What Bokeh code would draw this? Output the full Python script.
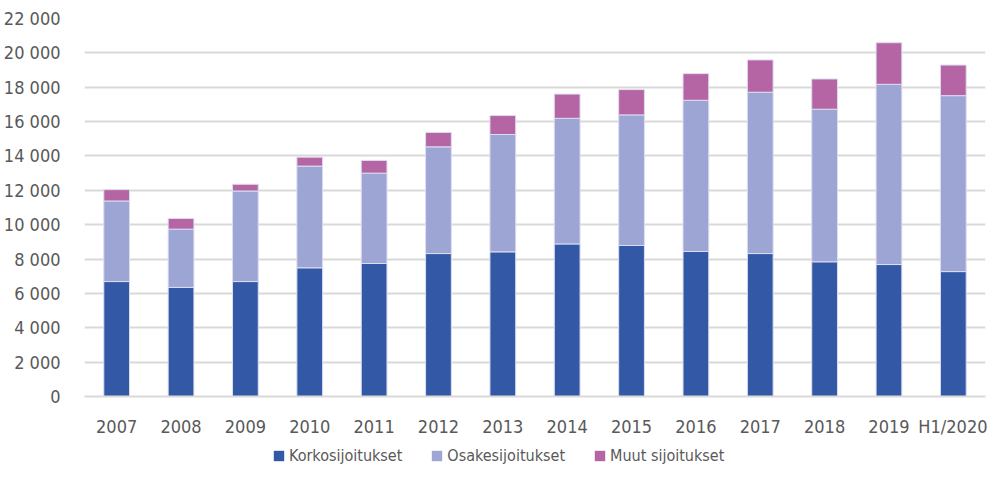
from bokeh.plotting import figure
from bokeh.layouts import column
from bokeh.models import (FactorRange, Range1d, FixedTicker, CustomJSTickFormatter,
                          Legend, LegendItem, ColumnDataSource)
from bokeh.embed import file_html
from bokeh.resources import INLINE

years = ["2007", "2008", "2009", "2010", "2011", "2012", "2013", "2014",
         "2015", "2016", "2017", "2018", "2019", "H1/2020"]
korko = [6690, 6350, 6690, 7490, 7740, 8320, 8420, 8880, 8790, 8440, 8320, 7840, 7680, 7270]
osake = [4690, 3390, 5270, 5920, 5260, 6210, 6830, 7310, 7600, 8800, 9390, 8880, 10490, 10240]
muut = [660, 620, 390, 520, 740, 840, 1100, 1410, 1470, 1550, 1880, 1760, 2420, 1780]
series = ["Korkosijoitukset", "Osakesijoitukset", "Muut sijoitukset"]
colors = ["#3358A5", "#9DA5D4", "#B565A3"]
y_ticks = list(range(0, 22001, 2000))

FONT = "DejaVu Sans Condensed"
TXT = "#595959"
W = 987

src = ColumnDataSource(dict(x=years, korko=korko, osake=osake, muut=muut))

# main chart
p = figure(x_range=FactorRange(factors=years, range_padding=0),
           y_range=Range1d(0, 22000),
           width=W, height=439, output_backend="svg", toolbar_location=None,
           min_border_left=83, min_border_right=2, min_border_top=18,
           min_border_bottom=42)
p.outline_line_color = None

p.vbar_stack(["korko", "osake", "muut"], x="x", width=0.4, source=src,
             color=colors, line_color="#DCDDF0", line_width=1)

p.yaxis.ticker = FixedTicker(ticks=y_ticks)
p.yaxis.formatter = CustomJSTickFormatter(
    code='return tick.toString().replace(/\\B(?=(\\d{3})+(?!\\d))/g, " ");')
p.yaxis.axis_line_color = None
p.yaxis.major_tick_line_color = None
p.yaxis.minor_tick_line_color = None
p.yaxis.major_label_text_font = FONT
p.yaxis.major_label_text_font_size = "18px"
p.yaxis.major_label_text_color = TXT
p.yaxis.major_label_standoff = 18

p.xaxis.axis_line_color = "#D9D9D9"
p.xaxis.axis_line_width = 2
p.xaxis.major_tick_line_color = None
p.xaxis.minor_tick_line_color = None
p.xaxis.major_label_text_font = FONT
p.xaxis.major_label_text_font_size = "18px"
p.xaxis.major_label_text_color = TXT
p.xaxis.major_label_standoff = 13

p.xgrid.grid_line_color = None
p.ygrid.grid_line_color = "#D9D9D9"
p.ygrid.grid_line_width = 2
p.ygrid.ticker = FixedTicker(ticks=y_ticks)

# legend strip (same series as hidden renderers; legend drawn without inactive overlay)
lg = figure(x_range=FactorRange(factors=years, range_padding=0),
            y_range=Range1d(0, 1),
            width=W, height=32, output_backend="svg", toolbar_location=None,
            min_border=0)
lg.outline_line_color = None
lg.axis.visible = False
lg.grid.visible = False
rs = lg.vbar_stack(["korko", "osake", "muut"], x="x", width=0.4, source=src,
                   color=colors, line_color=None)
for r in rs:
    r.visible = False

legend = Legend(items=[LegendItem(label=s, renderers=[r]) for s, r in zip(series, rs)],
                orientation="horizontal", location=(188, 6))
legend.label_text_font = FONT
legend.label_text_font_size = "16px"
legend.label_text_color = TXT
legend.glyph_width = 13
legend.glyph_height = 13
legend.label_standoff = 4
legend.spacing = 28
legend.border_line_color = None
legend.background_fill_alpha = 0
legend.inactive_fill_alpha = 0
legend.padding = 0
legend.margin = 0
lg.add_layout(legend)

layout = column(p, lg, spacing=0)
open("out.html", "w").write(file_html(layout, INLINE))
